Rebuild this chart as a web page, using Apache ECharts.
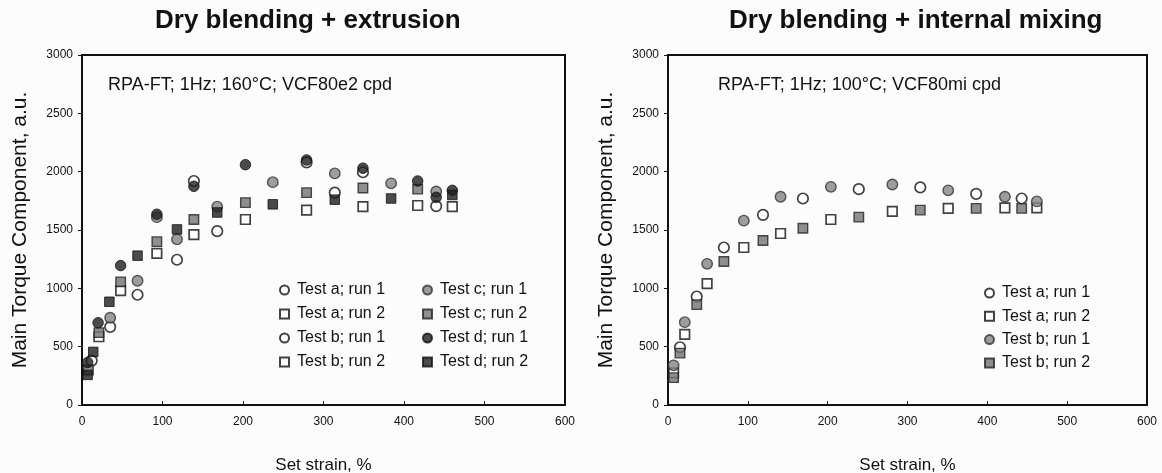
<!DOCTYPE html>
<html>
<head>
<meta charset="utf-8">
<script src="https://cdn.jsdelivr.net/npm/echarts@6/dist/echarts.min.js"></script>
<style>
html,body{margin:0;padding:0;background:#fcfcfc;}
#c{width:1162px;height:473px;}
</style>
</head>
<body>
<div id="c"></div>
<script>
// ---------- Data (strain %, torque a.u.) ----------
// Left panel: Dry blending + extrusion
const L_a1_x = [12, 35, 69, 118, 168, 314, 440];
const L_a1_y = [380, 670, 945, 1245, 1490, 1820, 1705];
const L_a2_x = [21, 48, 93, 139, 203];
const L_a2_y = [585, 980, 1300, 1460, 1590];
const L_b1_x = [139, 279, 349];
const L_b1_y = [1920, 2080, 1995];
const L_b2_x = [279, 349, 417, 460];
const L_b2_y = [1670, 1700, 1710, 1700];
const L_c1_x = [35, 69, 93, 118, 168, 237, 314, 384, 440];
const L_c1_y = [748, 1065, 1610, 1420, 1700, 1910, 1985, 1900, 1830];
const L_c2_x = [8, 21, 48, 93, 139, 203, 279, 349, 417];
const L_c2_y = [300, 620, 1055, 1400, 1590, 1735, 1820, 1860, 1850];
const L_d1_x = [7, 20, 48, 93, 139, 203, 279, 349, 417, 440, 460];
const L_d1_y = [365, 705, 1195, 1635, 1875, 2060, 2100, 2030, 1920, 1780, 1840];
const L_d2_x = [7, 14, 34, 69, 118, 168, 237, 314, 384, 460];
const L_d2_y = [258, 455, 885, 1280, 1505, 1650, 1720, 1760, 1770, 1800];

// Right panel: Dry blending + internal mixing
const R_a1_x = [15, 36, 70, 119, 169, 239, 316, 386, 443];
const R_a1_y = [495, 930, 1350, 1630, 1770, 1850, 1865, 1810, 1770];
const R_a2_x = [7, 21, 49, 95, 141, 204, 281, 351, 422, 462];
const R_a2_y = [275, 605, 1040, 1350, 1470, 1590, 1660, 1685, 1690, 1690];
const R_b1_x = [7, 21, 49, 95, 141, 204, 281, 351, 422, 462];
const R_b1_y = [340, 710, 1210, 1580, 1785, 1870, 1890, 1840, 1785, 1745];
const R_b2_x = [7, 15, 36, 70, 119, 169, 239, 316, 386, 443];
const R_b2_y = [235, 445, 860, 1230, 1410, 1515, 1610, 1670, 1685, 1685];

const xTicks = [0, 100, 200, 300, 400, 500, 600];
const yTicks = [0, 500, 1000, 1500, 2000, 2500, 3000];
const titles = ['Dry blending + extrusion', 'Dry blending + internal mixing'];
const notes = ['RPA-FT; 1Hz; 160\u00B0C; VCF80e2 cpd', 'RPA-FT; 1Hz; 100\u00B0C; VCF80mi cpd'];
const yName = 'Main Torque Component, a.u.';
const xName = 'Set strain, %';

// ---------- Styles ----------
const FONT = "'Liberation Sans', Arial, sans-serif";
const NARROW = "'Liberation Sans Narrow', 'Liberation Sans', Arial, sans-serif";
const ST = {
  openCircle:  {symbol: 'circle', size: 10.5, itemStyle: {color: '#ffffff', borderColor: '#111', borderWidth: 1.7}},
  openSquare:  {symbol: 'rect',   size: 9.5,  itemStyle: {color: '#ffffff', borderColor: '#111', borderWidth: 1.7}},
  crossCircle: {symbol: 'circle', size: 10.5, itemStyle: {color: '#858585', borderColor: '#333', borderWidth: 1.4}},
  crossSquare: {symbol: 'rect',   size: 9.5,  itemStyle: {color: '#737373', borderColor: '#222', borderWidth: 1.4}},
  fillCircle:  {symbol: 'circle', size: 10.5, itemStyle: {color: '#1e1e1e', borderColor: '#111', borderWidth: 1}},
  fillSquare:  {symbol: 'rect',   size: 9.5,  itemStyle: {color: '#1e1e1e', borderColor: '#111', borderWidth: 1}}
};

function mk(name, xs, ys, st, g) {
  return {
    name: name, type: 'scatter', xAxisIndex: g, yAxisIndex: g,
    symbol: st.symbol, symbolSize: st.size, itemStyle: st.itemStyle,
    data: xs.map((x, i) => [x, ys[i]]), emphasis: {disabled: true}
  };
}

const series = [
  mk('Test a; run 1', L_a1_x, L_a1_y, ST.openCircle, 0),
  mk('Test a; run 2', L_a2_x, L_a2_y, ST.openSquare, 0),
  mk('Test b; run 1', L_b1_x, L_b1_y, ST.openCircle, 0),
  mk('Test b; run 2', L_b2_x, L_b2_y, ST.openSquare, 0),
  mk('Test c; run 1', L_c1_x, L_c1_y, ST.crossCircle, 0),
  mk('Test c; run 2', L_c2_x, L_c2_y, ST.crossSquare, 0),
  mk('Test d; run 1', L_d1_x, L_d1_y, ST.fillCircle, 0),
  mk('Test d; run 2', L_d2_x, L_d2_y, ST.fillSquare, 0),
  mk('R|Test a; run 1', R_a1_x, R_a1_y, ST.openCircle, 1),
  mk('R|Test a; run 2', R_a2_x, R_a2_y, ST.openSquare, 1),
  mk('R|Test b; run 1', R_b1_x, R_b1_y, ST.crossCircle, 1),
  mk('R|Test b; run 2', R_b2_x, R_b2_y, ST.crossSquare, 1)
];

function xAxis(g) {
  return {
    type: 'value', gridIndex: g, min: xTicks[0], max: xTicks[xTicks.length - 1], interval: 100,
    name: xName, nameLocation: 'middle', nameGap: 52,
    nameTextStyle: {fontFamily: NARROW, fontSize: 17, color: '#111'},
    axisLine: {show: true, lineStyle: {color: '#111', width: 2}},
    axisTick: {show: true, length: 4, inside: true, lineStyle: {color: '#111', width: 1}},
    axisLabel: {fontFamily: NARROW, fontSize: 12, color: '#111', margin: 11},
    splitLine: {show: false}
  };
}
function yAxis(g) {
  return {
    type: 'value', gridIndex: g, min: yTicks[0], max: yTicks[yTicks.length - 1], interval: 500,
    name: yName, nameLocation: 'middle', nameGap: 51,
    nameTextStyle: {fontFamily: FONT, fontSize: 21, color: '#111'},
    axisLine: {show: true, lineStyle: {color: '#111', width: 2}},
    axisTick: {show: true, length: 4, lineStyle: {color: '#111', width: 1}},
    axisLabel: {fontFamily: FONT, fontSize: 12, color: '#111', margin: 9, formatter: v => String(v)},
    splitLine: {show: false}
  };
}

const legendCommon = {
  orient: 'vertical', itemWidth: 9, itemHeight: 9, itemGap: 6,
  textStyle: {fontFamily: FONT, fontSize: 16, color: '#111', lineHeight: 18, padding: [0, 0, 0, 3]},
  selectedMode: false, inactiveColor: '#111'
};

const option = {
  backgroundColor: '#fcfcfc',
  animation: false,
  title: [
    {text: titles[0], left: 150, top: 3, textStyle: {fontFamily: FONT, fontSize: 26, fontWeight: 'bold', color: '#111'}},
    {text: titles[1], left: 724, top: 3, textStyle: {fontFamily: FONT, fontSize: 26, fontWeight: 'bold', color: '#111'}},
    {text: notes[0], left: 103, top: 71, textStyle: {fontFamily: FONT, fontSize: 18, fontWeight: 'normal', color: '#111'}},
    {text: notes[1], left: 713, top: 71, textStyle: {fontFamily: FONT, fontSize: 18, fontWeight: 'normal', color: '#111'}}
  ],
  grid: [
    {left: 82, width: 483, top: 55, height: 350, containLabel: false, outerBoundsMode: 'none',
     show: true, borderColor: '#111', borderWidth: 2, backgroundColor: 'transparent'},
    {left: 668, width: 479, top: 55, height: 350, containLabel: false, outerBoundsMode: 'none',
     show: true, borderColor: '#111', borderWidth: 2, backgroundColor: 'transparent'}
  ],
  xAxis: [xAxis(0), xAxis(1)],
  yAxis: [yAxis(0), yAxis(1)],
  legend: [
    Object.assign({}, legendCommon, {left: 274, top: 276, data: ['Test a; run 1', 'Test a; run 2', 'Test b; run 1', 'Test b; run 2']}),
    Object.assign({}, legendCommon, {left: 417, top: 276, data: ['Test c; run 1', 'Test c; run 2', 'Test d; run 1', 'Test d; run 2']}),
    Object.assign({}, legendCommon, {left: 979, top: 279, itemGap: 5.3, data: ['R|Test a; run 1', 'R|Test a; run 2', 'R|Test b; run 1', 'R|Test b; run 2'],
      formatter: n => n.replace('R|', '')})
  ],
  series: series
};

const chart = echarts.init(document.getElementById('c'), null, {renderer: 'canvas'});
chart.setOption(option);
</script>
</body>
</html>
